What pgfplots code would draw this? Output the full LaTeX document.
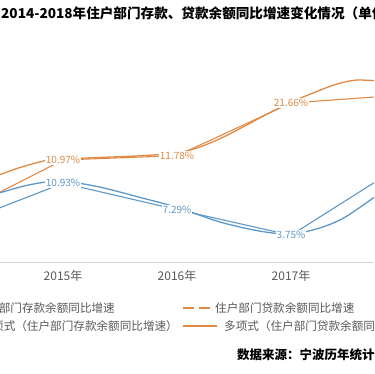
\documentclass[border=0pt]{standalone}
\usepackage{fontspec}
\setmainfont{Noto Sans CJK SC}
\usepackage{pgfplots}
\usepackage{pgfplotstable}
\pgfplotsset{compat=1.18}
\definecolor{org}{HTML}{E08A45}
\definecolor{blu}{HTML}{5E98C8}
\definecolor{txt}{HTML}{595959}

\pgfplotstableread{
year loan deposit
2014 0.1 4.8
2015 10.97 10.93
2016 11.78 7.29
2017 21.66 3.75
2018 23.2 13.7
}\datatab

\pgfplotstableread{
year v
2014.44 8.16
2014.61 9.47
2014.85 10.88
2015.00 11.16
2015.32 11.44
2015.67 11.75
2016.00 12.30
2016.20 13.40
2016.40 15.20
2016.60 17.40
2016.80 19.70
2017.00 21.80
2017.20 23.60
2017.40 25.20
2017.57 25.95
2017.77 25.80
}\loantrend

\pgfplotstableread{
year v
2014.44 9.58
2014.66 10.55
2014.85 11.10
2015.00 11.24
2015.32 10.41
2015.67 8.99
2016.02 7.51
2016.37 5.60
2016.72 4.33
2017.00 3.91
2017.25 4.74
2017.47 6.20
2017.77 9.44
}\deptrend

\begin{document}
\begin{tikzpicture}
\useasboundingbox (0pt,0pt) rectangle (374pt,374pt);
\clip (0pt,0pt) rectangle (374pt,374pt);
\fill[white] (0pt,0pt) rectangle (374pt,374pt);
\pgfplotsset{base/.style={scale only axis, width=374pt, height=222pt,
  at={(0pt,112pt)}, anchor=south west, xmin=2014.447, xmax=2017.728,
  /pgf/number format/assume math mode=true,
  every node near coord/.append style={font=\fontsize{10}{12}\selectfont,
    fill=white, inner sep=1pt, anchor=center}}}
% loan axis (with x axis)
\begin{axis}[base, ymin=-8.17, ymax=33.48,
  axis x line*=bottom, axis y line=none,
  axis line style={draw=gray!35, line width=0.8pt, -},
  xtick={2015,2016,2017}, xticklabels={2015年,2016年,2017年},
  major tick length=0pt, ytick=\empty,
  xticklabel style={font=\fontsize{12}{14}\selectfont, text=txt, yshift=-5pt}]
\addplot[org, line width=1.3pt, smooth, tension=0.5] table[x=year, y=v] {\loantrend};
\addplot[org, line width=1.1pt, nodes near coords={\pgfmathprintnumber[fixed,precision=2,fixed zerofill]{\pgfplotspointmeta}\%},
  every node near coord/.append style={text=org}] table[x=year, y=loan] {\datatab};
\end{axis}
% deposit axis
\begin{axis}[base, ymin=0.05, ymax=30.71, hide axis]
\addplot[blu, line width=1.3pt, smooth, tension=0.5] table[x=year, y=v] {\deptrend};
\addplot[blu, line width=1.1pt, nodes near coords={\pgfmathprintnumber[fixed,precision=2,fixed zerofill]{\pgfplotspointmeta}\%},
  every node near coord/.append style={text=blu}] table[x=year, y=deposit] {\datatab};
\end{axis}
% title
\node[anchor=west, inner sep=0pt, font=\bfseries\fontsize{13.6}{16}\selectfont] at (1pt,361pt) {2014-2018年住户部门存款、贷款余额同比增速变化情况（单位：\%）};
% legend
\begin{scope}[font=\fontsize{11.6}{13}\selectfont, text=txt]
\node[anchor=east, inner sep=0pt] at (115pt,66pt) {住户部门存款余额同比增速};
\draw[org, line width=1.6pt, dash pattern=on 11pt off 5pt] (183pt,66pt) -- (211pt,66pt);
\node[anchor=west, inner sep=0pt] at (215pt,66pt) {住户部门贷款余额同比增速};
\node[anchor=east, inner sep=0pt] at (178pt,48pt) {多项式（住户部门存款余额同比增速）};
\draw[org, line width=1.6pt] (183pt,48pt) -- (217pt,48pt);
\node[anchor=west, inner sep=0pt] at (224pt,48pt) {多项式（住户部门贷款余额同比增速）};
\end{scope}
% source
\node[anchor=west, inner sep=0pt, font=\bfseries\fontsize{12.5}{15}\selectfont] at (237pt,19pt) {数据来源：宁波历年统计年鉴};
\end{tikzpicture}
\end{document}
